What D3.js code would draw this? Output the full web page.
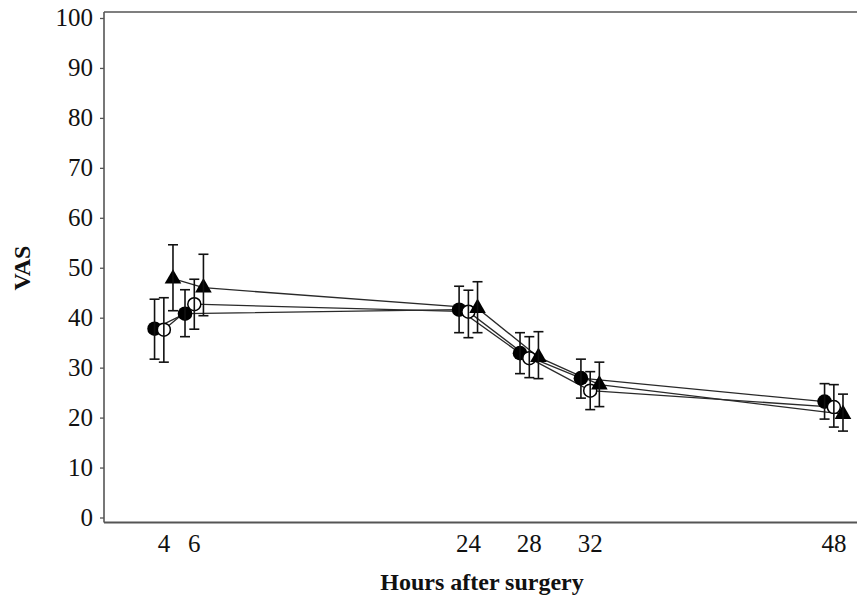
<!DOCTYPE html>
<html>
<head>
<meta charset="utf-8">
<script src="https://cdn.jsdelivr.net/npm/d3@7"></script>
<style>
  html, body { margin: 0; padding: 0; background: #fff; }
  svg { display: block; }
  text { font-family: "Liberation Serif", "Times New Roman", serif; fill: #111; }
</style>
</head>
<body>
<svg id="chart" width="857" height="598"></svg>
<script>
// ---- data ----
const hours = [4, 6, 24, 28, 32, 48];
const xTickLabels = ["4", "6", "24", "28", "32", "48"];
const yTicks = [0, 10, 20, 30, 40, 50, 60, 70, 80, 90, 100];

// series A: filled circle
const meanA  = [37.8, 40.8, 41.6, 32.9, 27.9, 23.2];
const upperA = [43.7, 45.6, 46.3, 37.0, 31.7, 26.8];
const lowerA = [31.7, 36.2, 37.0, 28.8, 23.9, 19.7];
// series B: open circle
const meanB  = [37.6, 42.7, 41.2, 31.9, 25.4, 22.1];
const upperB = [44.0, 47.7, 45.5, 36.2, 29.2, 26.6];
const lowerB = [31.1, 37.7, 36.0, 28.0, 21.6, 18.1];
// series C: filled triangle
const meanC  = [47.8, 46.0, 41.9, 32.1, 26.6, 20.7];
const upperC = [54.6, 52.7, 47.2, 37.2, 31.1, 24.7];
const lowerC = [41.4, 40.4, 37.0, 27.8, 22.2, 17.3];

// horizontal dodge (hours) for each series
const dodge = [-0.58, 0.03, 0.63];

const series = [
  { key: "A", mean: meanA, upper: upperA, lower: lowerA, shape: "filledCircle" },
  { key: "B", mean: meanB, upper: upperB, lower: lowerB, shape: "openCircle" },
  { key: "C", mean: meanC, upper: upperC, lower: lowerC, shape: "triangle" }
];

// ---- layout ----
const svg = d3.select("#chart");
const mLeft = 104, mRight = 857, mTop = 12, mBottom = 522.5;

const x = d3.scaleLinear().domain([0.1, 49.55]).range([mLeft, mRight]);
const y = d3.scaleLinear().domain([-1.0, 101.2]).range([mBottom, mTop]);

const axisColor = "#555";

// Y axis
const yAxis = d3.axisLeft(y).tickValues(yTicks).tickSize(4).tickPadding(7).tickFormat(d3.format("d"));
const gy = svg.append("g").attr("transform", `translate(${mLeft},0)`).call(yAxis);
gy.select(".domain").remove();
gy.selectAll(".tick line").attr("stroke", axisColor).attr("stroke-width", 1.3);
gy.selectAll(".tick text").attr("font-size", 25).attr("fill", "#111")
  .style("font-family", '"Liberation Serif", serif');

// X axis
const xAxis = d3.axisBottom(x).tickValues(hours).tickSize(0).tickPadding(12)
  .tickFormat((d, i) => xTickLabels[i]);
const gx = svg.append("g").attr("transform", `translate(0,${mBottom})`).call(xAxis);
gx.select(".domain").remove();
gx.selectAll(".tick text").attr("font-size", 25).attr("fill", "#111")
  .style("font-family", '"Liberation Serif", serif');

// axis lines and top frame
svg.append("line").attr("x1", mLeft).attr("x2", mLeft).attr("y1", mTop).attr("y2", mBottom)
  .attr("stroke", axisColor).attr("stroke-width", 1.6);
svg.append("line").attr("x1", mLeft).attr("x2", mRight).attr("y1", mBottom).attr("y2", mBottom)
  .attr("stroke", axisColor).attr("stroke-width", 1.8);
svg.append("line").attr("x1", mLeft).attr("x2", mRight).attr("y1", mTop).attr("y2", mTop)
  .attr("stroke", axisColor).attr("stroke-width", 1.4);

// axis titles
svg.append("text").attr("x", 482).attr("y", 590).attr("text-anchor", "middle")
  .attr("font-size", 24).attr("font-weight", "bold").text("Hours after surgery");
svg.append("text").attr("transform", "translate(30,268) rotate(-90)")
  .attr("text-anchor", "middle").attr("font-size", 24).attr("font-weight", "bold").text("VAS");

// ---- data marks ----
const gLines = svg.append("g");
const gMarks = svg.append("g");
const gErr = svg.append("g");

const line = d3.line().x(d => d.x).y(d => d.y);

series.forEach((s, si) => {
  const pts = hours.map((h, i) => ({
    x: x(h + dodge[si]), y: y(s.mean[i]), yu: y(s.upper[i]), yl: y(s.lower[i])
  }));
  gLines.append("path").datum(pts).attr("d", line)
    .attr("fill", "none").attr("stroke", "#2a2a2a").attr("stroke-width", 1.3);

  const gm = gMarks.append("g");
  if (s.shape === "filledCircle") {
    gm.selectAll("circle").data(pts).join("circle")
      .attr("cx", d => d.x).attr("cy", d => d.y).attr("r", 7.3).attr("fill", "#000");
  } else if (s.shape === "openCircle") {
    gm.selectAll("circle").data(pts).join("circle")
      .attr("cx", d => d.x).attr("cy", d => d.y).attr("r", 6.5)
      .attr("fill", "#fff").attr("stroke", "#000").attr("stroke-width", 1.5);
  } else {
    gm.selectAll("path").data(pts).join("path")
      .attr("d", d3.symbol().type(d3.symbolTriangle).size(120))
      .attr("transform", d => `translate(${d.x},${d.y})`).attr("fill", "#000");
  }

  const ge = gErr.append("g").attr("stroke", "#111").attr("stroke-width", 1.6);
  ge.selectAll("line.v").data(pts).join("line").attr("class", "v")
    .attr("x1", d => d.x).attr("x2", d => d.x).attr("y1", d => d.yu).attr("y2", d => d.yl);
  ge.selectAll("line.t").data(pts).join("line").attr("class", "t")
    .attr("x1", d => d.x - 5).attr("x2", d => d.x + 5).attr("y1", d => d.yu).attr("y2", d => d.yu);
  ge.selectAll("line.b").data(pts).join("line").attr("class", "b")
    .attr("x1", d => d.x - 5).attr("x2", d => d.x + 5).attr("y1", d => d.yl).attr("y2", d => d.yl);
});
</script>
</body>
</html>
